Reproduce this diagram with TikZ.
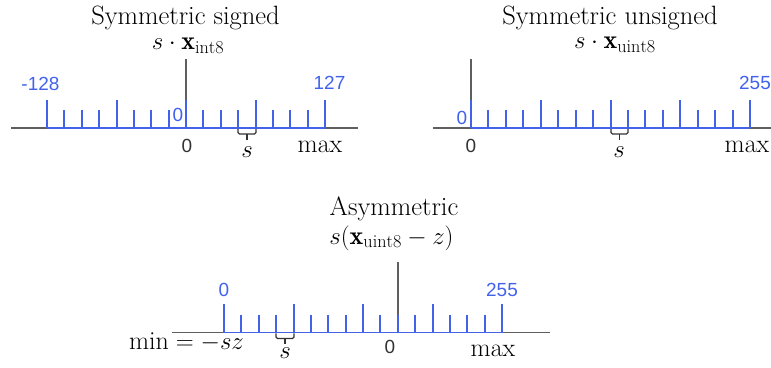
\documentclass[tikz,border=0pt]{standalone}
\usepackage{fontspec}
\newfontfamily\labfont{Liberation Sans}
\definecolor{qblue}{RGB}{66,98,235}
\definecolor{axgray}{RGB}{95,95,95}
\begin{document}
\begin{tikzpicture}[x=1pt,y=-1pt,
 axisline/.style={draw=axgray,line width=1.6pt},
 zeroline/.style={draw=axgray,line width=1.6pt},
 qtick/.style={draw=qblue,line width=2pt},
 qbase/.style={draw=qblue,line width=1.8pt},
 bracestyle/.style={draw=black!80,line width=1.2pt,rounded corners=1.5pt},
 title/.style={font=\fontsize{26.5}{30}\selectfont,anchor=base,inner sep=0pt},
 mathlab/.style={font=\fontsize{26}{30}\selectfont,anchor=base,inner sep=0pt},
 bluelab/.style={font=\labfont\fontsize{19}{22}\selectfont,text=qblue,inner sep=0pt},
 zerolab/.style={font=\labfont\fontsize{19}{22}\selectfont,text=black!80,anchor=base,inner sep=0pt},
]
\useasboundingbox (0,0) rectangle (771,367);
\clip (0,0) rectangle (771,367);

% ---------- Panel 1: symmetric signed ----------
\draw[axisline] (11,128) -- (358,128);
\draw[zeroline] (186,59) -- (186,128);
\draw[qbase] (47,128) -- (325,128);
\foreach \i in {0,...,16} {
  \pgfmathsetmacro\xx{round(47+\i*17.375)}
  \pgfmathparse{ifthenelse(mod(\i,4)==0,28,18)}\let\hh\pgfmathresult
  \draw[qtick] (\xx,128) -- ++(0,-\hh);
}
\draw[bracestyle] (238,128.8) -- (238,134) -- (256,134) -- (256,128.8);
\draw[draw=black!80,line width=1.2pt] (247,134) -- (247,139.5);
\node[title] (t1) at (185.5,24.5) {Symmetric signed};
\node[mathlab] (m1) at (188,49.5) {$s\cdot\mathbf{x}_{\mathrm{int8}}$};
\node[bluelab] (l1a) at (40.5,84) {-128};
\node[bluelab] (l1b) at (329.5,83) {127};
\node[bluelab] (l1z) at (178,114.5) {0};
\node[zerolab] (z1) at (187,152.5) {0};
\node[mathlab] (s1) at (247,157) {$s$};
\node[mathlab] (mx1) at (320,152) {$\max$};

% ---------- Panel 2: symmetric unsigned ----------
\draw[axisline] (433,128) -- (780,128);
\draw[zeroline] (471,59) -- (471,128);
\draw[qbase] (471,128) -- (750,128);
\foreach \i in {0,...,16} {
  \pgfmathsetmacro\xx{round(471+\i*17.44)}
  \pgfmathparse{ifthenelse(mod(\i,4)==0,28,18)}\let\hh\pgfmathresult
  \draw[qtick] (\xx,128) -- ++(0,-\hh);
}
\draw[bracestyle] (611,128.8) -- (611,134) -- (628,134) -- (628,128.8);
\draw[draw=black!80,line width=1.2pt] (619.5,134) -- (619.5,139.5);
\node[title] (t2) at (610,24) {Symmetric unsigned};
\node[mathlab] (m2) at (615,48.5) {$s\cdot\mathbf{x}_{\mathrm{uint8}}$};
\node[bluelab] (l2a) at (462,117.5) {0};
\node[bluelab] (l2b) at (755,83) {255};
\node[zerolab] (z2) at (471,152) {0};
\node[mathlab] (s2) at (619,157) {$s$};
\node[mathlab] (mx2) at (747,152) {$\max$};

% ---------- Panel 3: asymmetric ----------
\draw[axisline] (172,332.5) -- (550,332.5);
\draw[zeroline] (398,262) -- (398,332.5);
\draw[qbase] (224,332.5) -- (502,332.5);
\foreach \i in {0,...,16} {
  \pgfmathsetmacro\xx{round(224+\i*17.375)}
  \pgfmathparse{ifthenelse(mod(\i,4)==0,29,18)}\let\hh\pgfmathresult
  \draw[qtick] (\xx,332.5) -- ++(0,-\hh);
}
\draw[bracestyle] (276,333.3) -- (276,338.5) -- (294,338.5) -- (294,333.3);
\draw[draw=black!80,line width=1.2pt] (285,338.5) -- (285,344);
\node[title] (t3) at (394,215) {Asymmetric};
\node[mathlab] (m3) at (391.5,244) {$s(\mathbf{x}_{\mathrm{uint8}}-z)$};
\node[bluelab] (l3a) at (224,290) {0};
\node[bluelab] (l3b) at (502,290) {255};
\node[zerolab] (z3) at (390,353.5) {0};
\node[mathlab] (s3) at (285,358) {$s$};
\node[mathlab] (mx3) at (493,356) {$\max$};
\node[mathlab] (mn3) at (186.5,349.5) {$\min=-sz$};
\end{tikzpicture}
\end{document}
